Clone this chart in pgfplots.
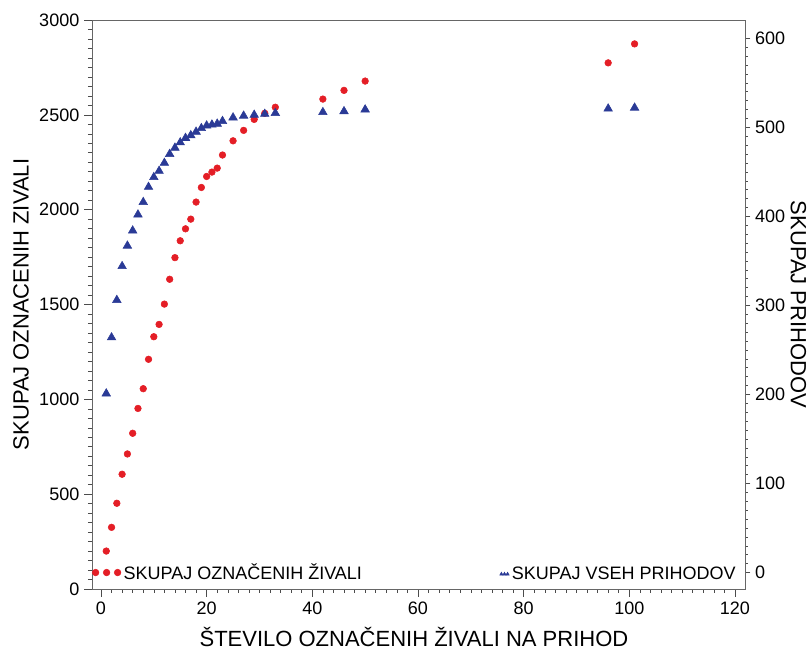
\documentclass[border=0pt]{standalone}
\usepackage{fontspec}
\setmainfont{Liberation Sans}
\usepackage{pgfplots}
\pgfplotsset{compat=1.18}

\definecolor{dotred}{RGB}{228,30,38}
\definecolor{triblue}{RGB}{42,58,150}

% kumulativno stevilo oznacenih zivali (leva os)
\pgfplotstableread{
x   y
1   200
2   325
3   452
4   605
5   712
6   821
7   952
8   1056
9   1211
10  1330
11  1395
12  1502
13  1633
14  1747
15  1836
16  1899
17  1950
18  2040
19  2117
20  2175
21  2198
22  2219
23  2288
25  2363
27  2418
29  2476
31  2508
33  2540
42  2583
46  2629
50  2678
96  2774
101 2874
}\oznaceni

% kumulativno stevilo prihodov (desna os)
\pgfplotstableread{
x   y
1   201
2   264
3   306
4   344
5   367
6   384
7   402
8   416
9   433
10  444
11  451
12  460
13  470
14  477
15  483
16  488
17  491
18  495
19  499
20  502
21  503
22  504
23  507
25  511
27  513
29  514
31  515
33  516
42  517
46  518
50  520
96  521
101 522
}\prihodi

\pgfplotsset{
  common/.style={
    scale only axis,
    width=489.75pt, height=426.75pt,
    xmin=-1.7, xmax=121.9,
    tick align=outside,
    major tick length=6pt,
    minor tick length=3pt,
    axis line style={black!60},
    every tick/.style={black!70},
    tick label style={font=\fontsize{13.5}{15}\selectfont},
    /pgf/number format/assume math mode=true,
    /pgf/number format/1000 sep={},
    legend style={draw=none, fill=none, font=\fontsize{13.5}{15}\selectfont},
    legend cell align=left,
  },
}

\begin{document}
\begin{tikzpicture}
\begin{axis}[
    common,
    ymin=0, ymax=3000,
    xtick={0,20,...,120},
    ytick={0,500,...,3000},
    minor x tick num=9,
    minor y tick num=9,
    xtick pos=bottom,
    ytick pos=left,
    xlabel={ŠTEVILO OZNAČENIH ŽIVALI NA PRIHOD},
    ylabel={SKUPAJ OZNACENIH ZIVALI},
    every axis x label/.style={at={(axis description cs:0.493,-0.084)}, anchor=center, font=\fontsize{16.5}{18}\selectfont},
    every axis y label/.style={at={(axis description cs:-0.1087,0.5)}, anchor=center, rotate=90, font=\fontsize{16.5}{18}\selectfont},
    legend style={at={(axis description cs:0,0)}, anchor=south west, inner xsep=0pt, inner ysep=3.5pt},
    legend image code/.code={\draw[mark repeat=1,mark phase=1,#1] plot coordinates {(0pt,0pt) (8.25pt,0pt) (16.5pt,0pt)};},
]
\addplot[only marks, mark=*, mark size=2.5pt, color=dotred] table[x=x, y=y] {\oznaceni};
\addlegendentry{SKUPAJ OZNAČENIH ŽIVALI}
\coordinate (sw) at (rel axis cs:0,0);
\coordinate (ne) at (rel axis cs:1,1);
\end{axis}

\begin{axis}[
    common,
    ymin=-18.5, ymax=620.6,
    axis x line=none,
    axis y line*=right,
    ytick={0,100,...,600},
    minor y tick num=9,
    major tick length=4pt,
    minor tick length=2pt,
    ylabel={SKUPAJ PRIHODOV},
    every axis y label/.style={at={(axis description cs:1.082,0.5)}, anchor=center, rotate=-90, font=\fontsize{16.5}{18}\selectfont},
    legend style={at={(axis description cs:0.99,0)}, anchor=south east, inner xsep=0pt, inner ysep=3.5pt},
    legend image code/.code={\draw[mark repeat=1,mark phase=1,#1,mark size=1.4pt] plot coordinates {(0pt,0pt) (2.3pt,0pt) (4.6pt,0pt)};},
]
\addplot[only marks, mark=triangle*, mark size=3.7pt, color=triblue] table[x=x, y=y] {\prihodi};
\addlegendentry{SKUPAJ VSEH PRIHODOV}
\end{axis}

\pgfresetboundingbox
\path ([shift={(-69pt,-49.5pt)}]sw) rectangle ([shift={(49.5pt,15pt)}]ne);
\end{tikzpicture}
\end{document}
